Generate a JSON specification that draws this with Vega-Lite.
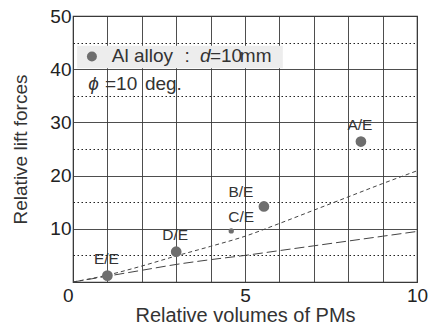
{
  "$schema": "https://vega.github.io/schema/vega-lite/v6.json",
  "width": 344,
  "height": 266,
  "autosize": {"type": "none"},
  "padding": {"left": 73, "top": 16, "right": 12, "bottom": 46},
  "background": "white",
  "config": {
    "font": "Liberation Sans",
    "view": {"stroke": "#333333", "strokeWidth": 1.2},
    "axis": {
      "domain": false,
      "ticks": false,
      "grid": true,
      "gridColor": "#3a3a3a",
      "labelFont": "Liberation Sans",
      "labelFontSize": 19,
      "labelColor": "#222222",
      "titleFont": "Liberation Sans",
      "titleFontWeight": "normal",
      "titleColor": "#333333"
    }
  },
  "datasets": {
    "points": [
      {"x": 1.0, "y": 1.2, "label": "E/E"},
      {"x": 3.0, "y": 5.7, "label": "D/E"},
      {"x": 4.6, "y": 9.6, "label": "C/E"},
      {"x": 5.55, "y": 14.2, "label": "B/E"},
      {"x": 8.37, "y": 26.4, "label": "A/E"}
    ],
    "curves": [
      {"x": 0, "y": 0, "s": "upper"},
      {"x": 1, "y": 1.3, "s": "upper"},
      {"x": 2, "y": 3.0, "s": "upper"},
      {"x": 3, "y": 4.9, "s": "upper"},
      {"x": 4, "y": 6.7, "s": "upper"},
      {"x": 5, "y": 8.6, "s": "upper"},
      {"x": 6, "y": 11.0, "s": "upper"},
      {"x": 7, "y": 13.5, "s": "upper"},
      {"x": 8, "y": 16.0, "s": "upper"},
      {"x": 9, "y": 18.5, "s": "upper"},
      {"x": 10, "y": 20.9, "s": "upper"},
      {"x": 0, "y": 0, "s": "lower"},
      {"x": 1, "y": 1.1, "s": "lower"},
      {"x": 2, "y": 2.2, "s": "lower"},
      {"x": 3, "y": 3.3, "s": "lower"},
      {"x": 4, "y": 4.2, "s": "lower"},
      {"x": 5, "y": 5.0, "s": "lower"},
      {"x": 6, "y": 5.9, "s": "lower"},
      {"x": 7, "y": 6.8, "s": "lower"},
      {"x": 8, "y": 7.7, "s": "lower"},
      {"x": 9, "y": 8.6, "s": "lower"},
      {"x": 10, "y": 9.5, "s": "lower"}
    ],
    "halfGrid": [
      {"x": 0.5}, {"x": 1.5}, {"x": 2.5}, {"x": 3.5}, {"x": 4.5},
      {"x": 5.5}, {"x": 6.5}, {"x": 7.5}, {"x": 8.5}, {"x": 9.5}
    ],
    "legendText": [
      {"t": "Al alloy", "x": 1.13, "y": 41.4},
      {"t": ":", "x": 3.24, "y": 41.4},
      {"t": "=10", "x": 3.98, "y": 41.4},
      {"t": "mm", "x": 4.85, "y": 41.4},
      {"t": "=10", "x": 0.93, "y": 36.0},
      {"t": "deg.", "x": 2.09, "y": 36.0}
    ],
    "legendItalic": [
      {"t": "d", "x": 3.69, "y": 41.4},
      {"t": "ϕ", "x": 0.44, "y": 36.0}
    ],
    "legendBand": [
      {"x": 0.12, "x2": 6.1, "y": 40.2, "y2": 44.4}
    ],
    "legendDot": [
      {"x": 0.55, "y": 42.4}
    ]
  },
  "encoding": {
    "x": {
      "field": "x", "type": "quantitative",
      "scale": {"domain": [0, 10], "nice": false},
      "axis": {
        "title": "Relative volumes of PMs",
        "titleFontSize": 20,
        "titlePadding": 0,
        "format": "d",
        "values": [0, 1, 2, 3, 4, 5, 6, 7, 8, 9, 10],
        "labelExpr": "datum.value % 5 === 0 ? format(datum.value, 'd') : ''",
        "labelPadding": 4,
        "labelFlush": false,
        "labelOverlap": false,
        "labelAlign": {"condition": {"test": "datum.value === 0", "value": "right"}, "value": "center"},
        "gridWidth": 0.9
      }
    },
    "y": {
      "field": "y", "type": "quantitative",
      "scale": {"domain": [0, 50], "nice": false},
      "axis": {
        "title": "Relative lift forces",
        "titleFontSize": 19,
        "titlePadding": 19,
        "format": "d",
        "values": [0, 5, 10, 15, 20, 25, 30, 35, 40, 45, 50],
        "labelExpr": "datum.value % 10 === 0 && datum.value > 0 ? format(datum.value, 'd') : ''",
        "labelPadding": 2,
        "labelOverlap": false,
        "labelFlush": false,
        "gridDash": {"condition": {"test": "datum.value % 10 !== 0", "value": [1.5, 2.5]}, "value": []},
        "gridWidth": {"condition": {"test": "datum.value % 10 !== 0", "value": 1.2}, "value": 0.9},
        "gridColor": {"condition": {"test": "datum.value % 10 !== 0", "value": "#222222"}, "value": "#3a3a3a"}
      }
    }
  },
  "layer": [
    {
      "data": {"name": "halfGrid"},
      "mark": {"type": "rule", "color": "#111111", "strokeWidth": 1.5, "strokeDash": [2, 2.5]},
      "encoding": {"y": {"datum": 0}, "y2": {"datum": 50}}
    },
    {
      "data": {"name": "curves"},
      "transform": [{"filter": "datum.s === 'upper'"}],
      "mark": {"type": "line", "color": "#444444", "strokeWidth": 1, "strokeDash": [4, 3], "interpolate": "monotone"}
    },
    {
      "data": {"name": "curves"},
      "transform": [{"filter": "datum.s === 'lower'"}],
      "mark": {"type": "line", "color": "#444444", "strokeWidth": 1, "strokeDash": [10, 4], "interpolate": "monotone"}
    },
    {
      "data": {"name": "points"},
      "transform": [{"filter": "datum.label !== 'C/E'"}],
      "mark": {"type": "circle", "color": "#6e6e6e", "opacity": 1, "size": 115}
    },
    {
      "data": {"name": "points"},
      "transform": [{"filter": "datum.label === 'C/E'"}],
      "mark": {"type": "circle", "color": "#6e6e6e", "opacity": 1, "size": 28}
    },
    {
      "data": {"name": "points"},
      "transform": [{"filter": "datum.label === 'E/E' || datum.label === 'D/E' || datum.label === 'A/E'"}],
      "mark": {"type": "text", "fontSize": 15.5, "color": "#333333", "baseline": "middle", "align": "center", "dy": -16.5, "dx": -1},
      "encoding": {"text": {"field": "label"}}
    },
    {
      "data": {"name": "points"},
      "transform": [{"filter": "datum.label === 'C/E'"}],
      "mark": {"type": "text", "fontSize": 15.5, "color": "#333333", "baseline": "middle", "align": "center", "dy": -14, "dx": 10},
      "encoding": {"text": {"field": "label"}}
    },
    {
      "data": {"name": "points"},
      "transform": [{"filter": "datum.label === 'B/E'"}],
      "mark": {"type": "text", "fontSize": 15.5, "color": "#333333", "baseline": "middle", "align": "center", "dy": -14, "dx": -23},
      "encoding": {"text": {"field": "label"}}
    },
    {
      "data": {"name": "legendBand"},
      "mark": {"type": "rect", "color": "#ededed"},
      "encoding": {"x2": {"field": "x2"}, "y2": {"field": "y2"}}
    },
    {
      "data": {"name": "legendDot"},
      "mark": {"type": "circle", "color": "#6e6e6e", "opacity": 1, "size": 100}
    },
    {
      "data": {"name": "legendText"},
      "mark": {"type": "text", "fontSize": 19, "color": "#333333", "align": "left", "baseline": "alphabetic"},
      "encoding": {"text": {"field": "t"}}
    },
    {
      "data": {"name": "legendItalic"},
      "mark": {"type": "text", "fontSize": 19, "fontStyle": "italic", "color": "#333333", "align": "left", "baseline": "alphabetic"},
      "encoding": {"text": {"field": "t"}}
    }
  ]
}
